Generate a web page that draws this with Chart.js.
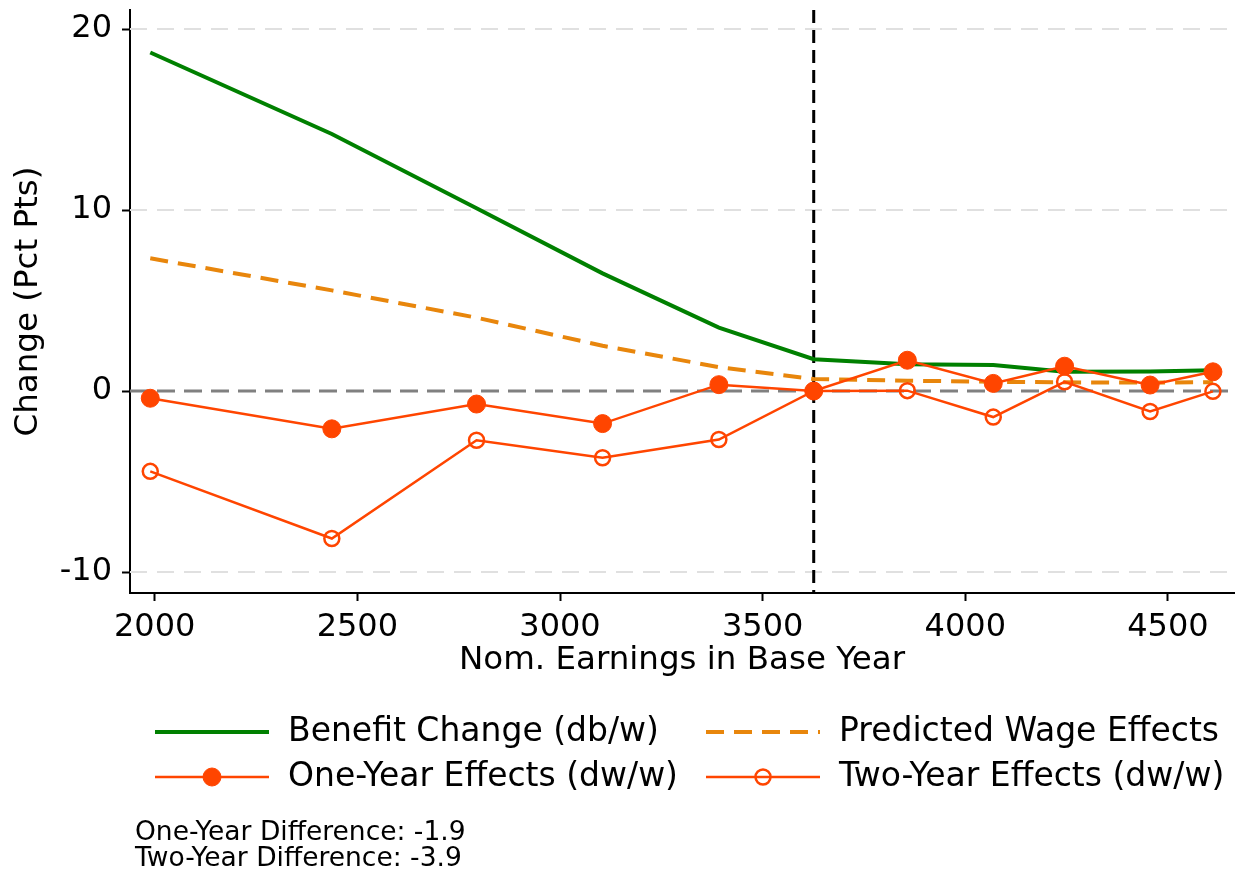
<!DOCTYPE html>
<html>
<head>
<meta charset="utf-8">
<script src="https://cdn.jsdelivr.net/npm/chart.js@4/dist/chart.umd.min.js"></script>
<style>
  html, body { margin: 0; padding: 0; background: #fff; }
  #wrap { width: 1244px; height: 875px; }
</style>
</head>
<body>
<div id="wrap"><canvas id="chart" width="1244" height="875"></canvas></div>
<script>
// earnings bins (x) and series
var earnings = [1989, 2437, 2794, 3105, 3392, 3626, 3857, 4069, 4245, 4456, 4611];
var benefitChange = [18.7, 14.2, 10.1, 6.5, 3.5, 1.76, 1.48, 1.43, 1.06, 1.08, 1.15];
var predictedWage = [7.33, 5.56, 4.05, 2.5, 1.32, 0.66, 0.57, 0.51, 0.48, 0.46, 0.49];
var oneYear = [-0.4, -2.09, -0.72, -1.8, 0.35, 0.0, 1.7, 0.42, 1.37, 0.33, 1.06];
var twoYear = [-4.44, -8.15, -2.72, -3.69, -2.68, 0.0, 0.02, -1.44, 0.51, -1.13, -0.02];

var xTicks = [2000, 2500, 3000, 3500, 4000, 4500];
var yTicks = [-10, 0, 10, 20];
var cutoff = 3626;
var notes = ["One-Year Difference: -1.9", "Two-Year Difference: -3.9"];

var FONT = "DejaVu Sans";
var GREEN = "#008000";
var ORANGE = "#e8860c";
var RED = "#ff4500";

function pts(ys) {
  return earnings.map(function (x, i) { return { x: x, y: ys[i] }; });
}

var refLines = {
  id: "refLines",
  beforeDatasetsDraw: function (chart) {
    var ctx = chart.ctx, a = chart.chartArea;
    var xs = chart.scales.x, ys = chart.scales.y;
    ctx.save();
    // light dashed grid
    yTicks.forEach(function (v) {
      if (v === 0) return;
      var y = ys.getPixelForValue(v);
      ctx.strokeStyle = "#e0e0e0";
      ctx.lineWidth = 2;
      ctx.setLineDash([17, 10]);
      ctx.beginPath(); ctx.moveTo(a.left, y); ctx.lineTo(a.right, y); ctx.stroke();
    });
    // zero line
    var y0 = ys.getPixelForValue(0);
    ctx.strokeStyle = "#808080";
    ctx.lineWidth = 3;
    ctx.setLineDash([18, 9]);
    ctx.beginPath(); ctx.moveTo(a.left, y0); ctx.lineTo(a.right, y0); ctx.stroke();
    // cutoff
    var xc = xs.getPixelForValue(cutoff);
    ctx.strokeStyle = "#000";
    ctx.lineWidth = 3;
    ctx.setLineDash([13, 7]);
    ctx.beginPath(); ctx.moveTo(xc, a.top); ctx.lineTo(xc, a.bottom); ctx.stroke();
    ctx.restore();
  }
};

var legendNotes = {
  id: "legendNotes",
  afterDraw: function (chart) {
    var ctx = chart.ctx;
    var ds = chart.data.datasets;
    var cols = [155, 706], rows = [732, 777];
    ctx.save();
    ds.forEach(function (d, i) {
      var x0 = cols[i % 2], y = rows[Math.floor(i / 2)];
      ctx.strokeStyle = d.borderColor;
      ctx.lineWidth = d.borderWidth;
      ctx.setLineDash(d.borderDash || []);
      ctx.beginPath(); ctx.moveTo(x0, y); ctx.lineTo(x0 + 114, y); ctx.stroke();
      ctx.setLineDash([]);
      if (d.pointRadius > 0) {
        ctx.beginPath();
        ctx.arc(x0 + 57, y, d.pointRadius, 0, Math.PI * 2);
        ctx.fillStyle = d.pointBackgroundColor;
        ctx.fill();
        ctx.lineWidth = d.pointBorderWidth;
        ctx.strokeStyle = d.pointBorderColor;
        ctx.stroke();
      }
      ctx.fillStyle = "#000";
      ctx.font = "33px '" + FONT + "'";
      ctx.textBaseline = "middle";
      ctx.fillText(d.label, x0 + 133, y);
    });
    ctx.font = "26.5px '" + FONT + "'";
    ctx.fillText(notes[0], 135, 833);
    ctx.fillText(notes[1], 135, 859);
    ctx.restore();
  }
};

var ctx = document.getElementById("chart").getContext("2d");
var chart = new Chart(ctx, {
  type: "line",
  data: {
    datasets: [
      {
        label: "Benefit Change (db/w)",
        data: pts(benefitChange),
        borderColor: GREEN,
        borderWidth: 4,
        pointRadius: 0,
        order: 2
      },
      {
        label: "Predicted Wage Effects",
        data: pts(predictedWage),
        borderColor: ORANGE,
        borderWidth: 4,
        borderDash: [18, 10],
        pointRadius: 0,
        order: 3
      },
      {
        label: "One-Year Effects (dw/w)",
        data: pts(oneYear),
        borderColor: RED,
        borderWidth: 2.5,
        pointRadius: 9,
        pointBackgroundColor: RED,
        pointBorderColor: RED,
        pointBorderWidth: 1,
        order: 0
      },
      {
        label: "Two-Year Effects (dw/w)",
        data: pts(twoYear),
        borderColor: RED,
        borderWidth: 2.5,
        pointRadius: 7.5,
        pointBackgroundColor: "rgba(255,255,255,0)",
        pointBorderColor: RED,
        pointBorderWidth: 2.5,
        order: 1
      }
    ]
  },
  options: {
    responsive: false,
    animation: false,
    layout: { padding: { left: 0, top: 8, right: 4, bottom: 195 } },
    plugins: { legend: { display: false }, tooltip: { enabled: false } },
    elements: { line: { tension: 0 } },
    scales: {
      x: {
        type: "linear",
        min: 1939,
        max: 4663,
        afterBuildTicks: function (s) { s.ticks = xTicks.map(function (v) { return { value: v }; }); },
        afterFit: function (s) { s.height = 87; s.paddingLeft = 0; s.paddingRight = 0; },
        grid: { drawOnChartArea: false, tickLength: 8, tickColor: "#000", tickWidth: 2 },
        border: { color: "#000", width: 2 },
        ticks: {
          color: "#000", font: { family: FONT, size: 32 }, padding: 7, maxRotation: 0,
          callback: function (v) { return String(v); }
        },
        title: {
          display: true, text: "Nom. Earnings in Base Year", color: "#000",
          font: { family: FONT, size: 32.5, lineHeight: 1.2 }, padding: { top: 0, bottom: 0 }
        }
      },
      y: {
        min: -11.16,
        max: 21.05,
        afterBuildTicks: function (s) { s.ticks = yTicks.map(function (v) { return { value: v }; }); },
        afterFit: function (s) { s.width = 130; s.paddingTop = 0; s.paddingBottom = 0; },
        grid: { drawOnChartArea: false, tickLength: 8, tickColor: "#000", tickWidth: 2 },
        border: { color: "#000", width: 2 },
        ticks: {
          color: "#000", font: { family: FONT, size: 32 }, padding: 10,
          callback: function (v) { return String(v); }
        },
        title: {
          display: true, text: "Change (Pct Pts)", color: "#000",
          font: { family: FONT, size: 32.5, lineHeight: 1.2 }, padding: { top: 9, bottom: 0 }
        }
      }
    }
  },
  plugins: [refLines, legendNotes]
});
</script>
</body>
</html>
